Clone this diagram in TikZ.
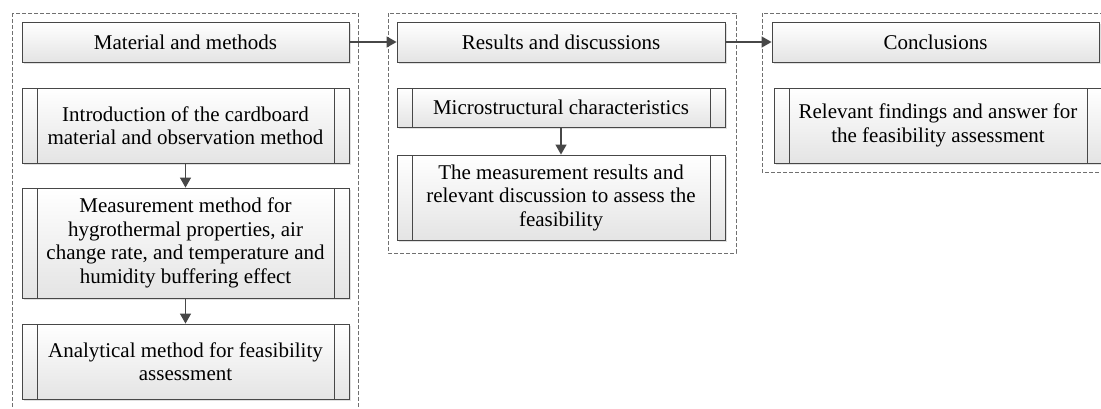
\documentclass[tikz,border=0pt]{standalone}
\usepackage{fontspec}
\setmainfont{Liberation Serif}
\usetikzlibrary{arrows.meta,shadows}

\definecolor{linegray}{HTML}{474747}
\definecolor{fillgray}{HTML}{E4E4E4}
\definecolor{dashgray}{HTML}{707070}

\tikzset{
	head/.style={draw=linegray, line width=0.9pt, top color=white, bottom color=fillgray,
		drop shadow={shadow xshift=2pt, shadow yshift=-2pt, fill=black!12, opacity=1},
		inner sep=0pt, align=center, font=\fontsize{21}{23.5}\selectfont},
	proc/.style={head, path picture={
		\draw[linegray, line width=0.9pt]
		([xshift=15pt]path picture bounding box.north west) -- ([xshift=15pt]path picture bounding box.south west)
		([xshift=-15pt]path picture bounding box.north east) -- ([xshift=-15pt]path picture bounding box.south east);}},
	group/.style={draw=dashgray, dash pattern=on 4pt off 2pt, line width=0.7pt},
	link/.style={draw=linegray, line width=1.4pt, -{Triangle[length=10pt,width=11pt]}}
}

\begin{document}
\begin{tikzpicture}[x=1pt,y=-1pt]
		\useasboundingbox (0,0) rectangle (1101,408);
		% dashed groups
		\draw[group] (12,13) rectangle (358,415);
		\draw[group] (388,13) rectangle (736,253);
		\draw[group] (762,13) rectangle (1110,172);
		% material and methods
		\node[head,minimum width=327pt,minimum height=40pt] (mat) at (185.5,42) {Material and methods};
		\node[proc,minimum width=327pt,minimum height=75pt] (intro) at (185.5,125.5) {Introduction of the cardboard\\material and observation method};
		\node[proc,minimum width=327pt,minimum height=110pt] (meas) at (185.5,243) {Measurement method for\\hygrothermal properties, air\\change rate, and temperature and\\humidity buffering effect};
		\node[proc,minimum width=327pt,minimum height=75pt] (anal) at (185.5,361.5) {Analytical method for feasibility\\assessment};
		% results and discussions
		\node[head,minimum width=328pt,minimum height=40pt] (res) at (561,42) {Results and discussions};
		\node[proc,minimum width=328pt,minimum height=39pt] (micro) at (561,107.5) {Microstructural characteristics};
		\node[proc,minimum width=328pt,minimum height=85pt] (mres) at (561,197.5) {The measurement results and\\relevant discussion to assess the\\feasibility};
		% conclusions
		\node[head,minimum width=327pt,minimum height=40pt] (conc) at (935.5,42) {Conclusions};
		\node[proc,minimum width=328pt,minimum height=75pt] (find) at (938,125.5) {Relevant findings and answer for\\the feasibility assessment};
		% links
		\draw[link] (mat) -- (res);
		\draw[link] (res) -- (conc);
		\draw[link] (intro) -- (meas);
		\draw[link] (meas) -- (anal);
		\draw[link] (micro) -- (mres);
\end{tikzpicture}
\end{document}
